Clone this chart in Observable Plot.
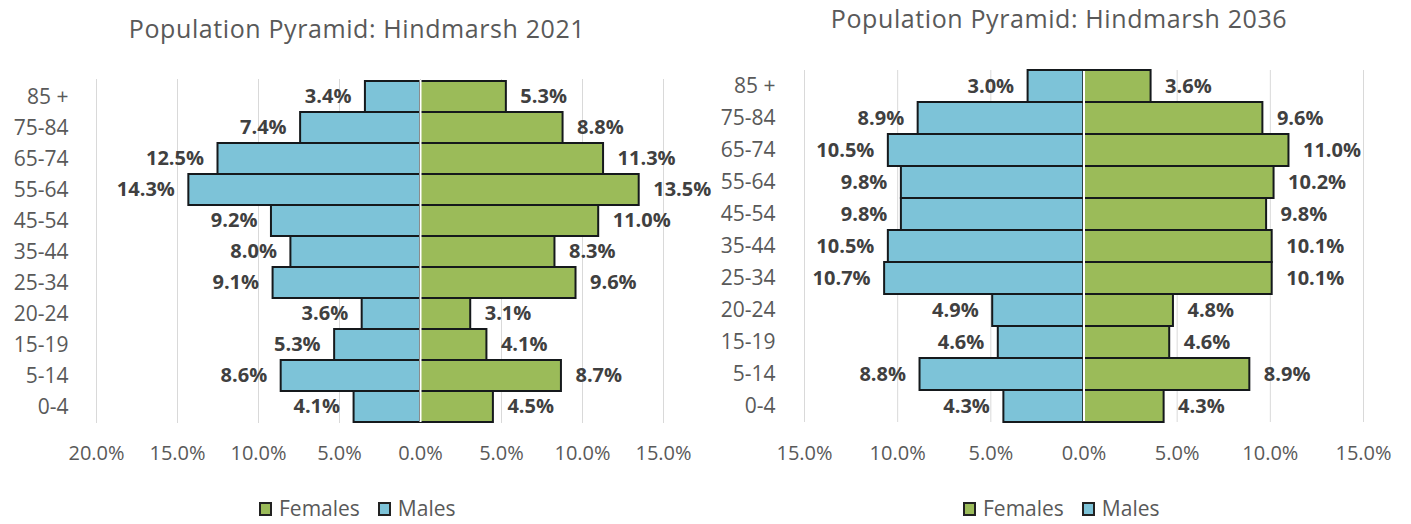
<!DOCTYPE html>
<html>
<head>
<meta charset="utf-8">
<script src="https://cdn.jsdelivr.net/npm/d3@7"></script>
<script src="https://cdn.jsdelivr.net/npm/@observablehq/plot@0.6"></script>
<style>
  body { margin: 0; background: #fff; font-family: "Open Sans", sans-serif; }
  #wrap { position: relative; width: 1411px; height: 524px; overflow: hidden; background: #fff; }
  .panel { position: absolute; top: 0; height: 524px; overflow: visible; }
  .panel svg { display: block; overflow: visible; }
  .title { position: absolute; white-space: nowrap; color: #595959; font-size: 25px; letter-spacing: 0.6px; transform: translate(-50%, -50%); line-height: 1; }
  .legend { position: absolute; display: flex; align-items: center; white-space: nowrap; color: #595959; font-size: 21px; line-height: 1; }
  .legend .item { display: flex; align-items: center; margin-right: 18px; }
  .legend .sw { width: 13px; height: 14px; box-sizing: border-box; border: 2px solid #222; margin-right: 7px; }
</style>
</head>
<body>
<div id="wrap"></div>
<script>
// ---- data ----
const ageGroups = ["85 +", "75-84", "65-74", "55-64", "45-54", "35-44", "25-34", "20-24", "15-19", "5-14", "0-4"];
const males2021   = [3.4, 7.4, 12.5, 14.3, 9.2, 8.0, 9.1, 3.6, 5.3, 8.6, 4.1];
const females2021 = [5.3, 8.8, 11.3, 13.5, 11.0, 8.3, 9.6, 3.1, 4.1, 8.7, 4.5];
const males2036   = [3.0, 8.9, 10.5, 9.8, 9.8, 10.5, 10.7, 4.9, 4.6, 8.8, 4.3];
const females2036 = [3.6, 9.6, 11.0, 10.2, 9.8, 10.1, 10.1, 4.8, 4.6, 8.9, 4.3];
const ticks2021 = [-20, -15, -10, -5, 0, 5, 10, 15];
const ticks2036 = [-15, -10, -5, 0, 5, 10, 15];
const seriesNames = ["Females", "Males"];
const seriesColors = ["#9bbb59", "#7dc3d8"];
const titles = ["Population Pyramid: Hindmarsh 2021", "Population Pyramid: Hindmarsh 2036"];

const fmt = v => Math.abs(v).toFixed(1) + "%";

function pyramid(o) {
  const rows = ageGroups.flatMap((a, i) => [
    {age: a, sex: "Males", v: -o.males[i]},
    {age: a, sex: "Females", v: o.females[i]}
  ]);
  const m = rows.filter(d => d.sex === "Males");
  const f = rows.filter(d => d.sex === "Females");
  return Plot.plot({
    width: o.width, height: 524,
    marginLeft: o.marginLeft, marginRight: o.marginRight,
    marginTop: o.marginTop, marginBottom: o.marginBottom,
    style: {fontFamily: "'Open Sans', sans-serif", background: "transparent", color: "#595959", overflow: "visible"},
    x: {domain: o.domain},
    y: {domain: ageGroups, padding: 0},
    color: {domain: seriesNames, range: seriesColors},
    marks: [
      Plot.ruleX(o.ticks, {stroke: "#d9d9d9", strokeWidth: 1}),
      Plot.barX(rows, {x: "v", y: "age", fill: "sex", stroke: "#15191c", strokeWidth: 2}),
      Plot.ruleX([0], {stroke: "white", strokeWidth: 2, insetTop: 1, insetBottom: 1}),
      Plot.text(m, {x: "v", y: "age", text: d => fmt(d.v), textAnchor: "end", dx: -14,
        fontSize: 20, fontWeight: "bold", fill: "#404040"}),
      Plot.text(f, {x: "v", y: "age", text: d => fmt(d.v), textAnchor: "start", dx: 14,
        fontSize: 20, fontWeight: "bold", fill: "#404040"}),
      Plot.axisX({ticks: o.ticks, tickFormat: fmt, tickSize: 0, tickPadding: o.xPad,
        fontSize: 20, color: "#595959", label: null}),
      Plot.axisY({tickSize: 0, tickPadding: o.yPad, fontSize: 21, color: "#595959", label: null})
    ]
  });
}

const wrap = document.getElementById("wrap");
const panels = [
  {left: 0, width: 695, males: males2021, females: females2021, domain: [-20, 15], ticks: ticks2021,
   marginLeft: 96, marginRight: 32, marginTop: 79, marginBottom: 101, xPad: 22, yPad: 28,
   titleX: 357, titleY: 28, legendX: 259},
  {left: 700, width: 711, males: males2036, females: females2036, domain: [-15, 15], ticks: ticks2036,
   marginLeft: 104, marginRight: 48, marginTop: 70, marginBottom: 102, xPad: 23, yPad: 29,
   titleX: 1059, titleY: 18, legendX: 963}
];

panels.forEach((p, k) => {
  const div = document.createElement("div");
  div.className = "panel";
  div.style.left = p.left + "px";
  div.style.width = p.width + "px";
  div.style.zIndex = String(2 - k);
  div.appendChild(pyramid(p));
  wrap.appendChild(div);

  const t = document.createElement("div");
  t.className = "title";
  t.textContent = titles[k];
  t.style.left = p.titleX + "px";
  t.style.top = p.titleY + "px";
  wrap.appendChild(t);

  const lg = document.createElement("div");
  lg.className = "legend";
  lg.style.left = p.legendX + "px";
  lg.style.top = "498px";
  seriesNames.forEach((n, i) => {
    const it = document.createElement("div");
    it.className = "item";
    const sw = document.createElement("div");
    sw.className = "sw";
    sw.style.background = seriesColors[i];
    const tx = document.createElement("span");
    tx.textContent = n;
    it.appendChild(sw);
    it.appendChild(tx);
    lg.appendChild(it);
  });
  wrap.appendChild(lg);
});
</script>
</body>
</html>
